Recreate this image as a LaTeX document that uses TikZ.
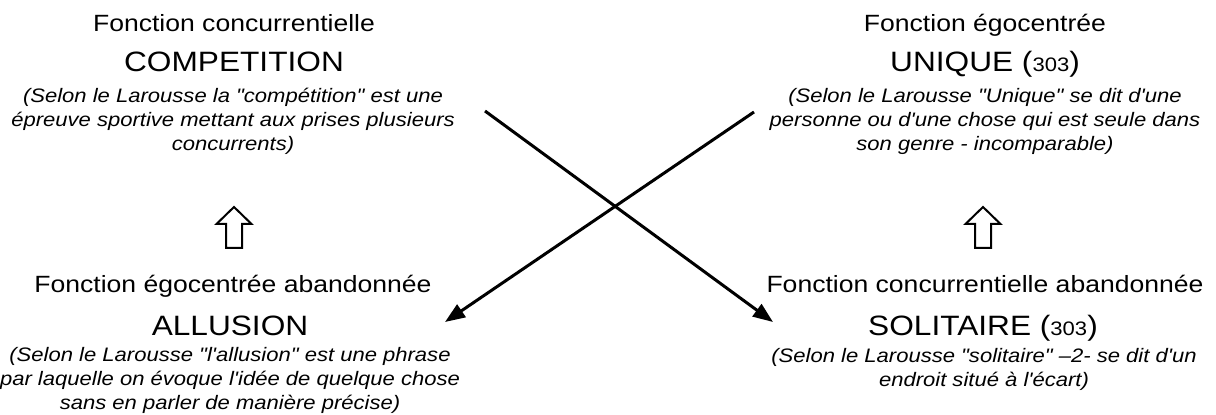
\documentclass[tikz,border=0pt]{standalone}
\usepackage{fontspec}
\setmainfont{Liberation Sans}[FakeStretch=1.13,Ligatures=TeXOff]
\usetikzlibrary{arrows.meta,positioning}

\newcommand{\petitchiffre}[1]{{\fontsize{9.75}{12}\selectfont #1}}

\begin{document}
\begin{tikzpicture}[x=0.5pt,y=-0.5pt]
%styles des trois niveaux de texte et des fleches
%definition : anchor=base donne la ligne de base de la derniere ligne
\tikzset{fonction/.style={anchor=base,inner sep=0pt,font=\fontsize{11.75}{14}\selectfont},
nom/.style={anchor=base,inner sep=0pt,font=\fontsize{14}{17}\selectfont},
definition/.style={anchor=base,inner sep=0pt,align=center,font=\fontsize{9.75}{12}\selectfont\itshape},
croix/.style={line width=1.5pt,-{Triangle[length=10pt,width=7.5pt]}},
montee/.pic={\draw[line width=1pt] (-8,0) -- (-8,-24) -- (-17.5,-24) -- (0,-41) -- (17.5,-24) -- (8,-24) -- (8,0) -- cycle;}}
\useasboundingbox (0,0) rectangle (1216,415);

% colonne de gauche
\node[fonction] (fonc-comp) at (234,32) {Fonction concurrentielle};
\node[nom] (comp) at (234,72) {COMPETITION};
\node[definition] (def-comp) at (233,151) {(Selon le Larousse la "compétition" est une\\épreuve sportive mettant aux prises plusieurs\\concurrents)};
\pic at (234,248) {montee};
\node[fonction] (fonc-all) at (233,293) {Fonction égocentrée abandonnée};
\node[nom] (all) at (230,336) {ALLUSION};
\node[definition] (def-all) at (230,410) {(Selon le Larousse "l'allusion" est une phrase\\par laquelle on évoque l'idée de quelque chose\\sans en parler de manière précise)};

% colonne de droite
\node[fonction] (fonc-uni) at (985,32) {Fonction égocentrée};
\node[nom] (uni) at (985,72) {UNIQUE (\petitchiffre{303})};
\node[definition] (def-uni) at (985,151) {(Selon le Larousse "Unique" se dit d'une\\personne ou d'une chose qui est seule dans\\son genre - incomparable)};
\pic at (983,248) {montee};
\node[fonction] (fonc-sol) at (985,293) {Fonction concurrentielle abandonnée};
\node[nom] (sol) at (983,336) {SOLITAIRE (\petitchiffre{303})};
\node[definition] (def-sol) at (984,387) {(Selon le Larousse "solitaire" –2- se dit d'un\\endroit situé à l'écart)};

% les deux fleches croisees
\coordinate (comp-depart) at (485,111);
\coordinate (sol-arrivee) at (773,322);
\coordinate (uni-depart) at (754,112);
\coordinate (all-arrivee) at (445,322);
\draw[croix] (comp-depart) -- (sol-arrivee);
\draw[croix] (uni-depart) -- (all-arrivee);
\end{tikzpicture}
\end{document}
